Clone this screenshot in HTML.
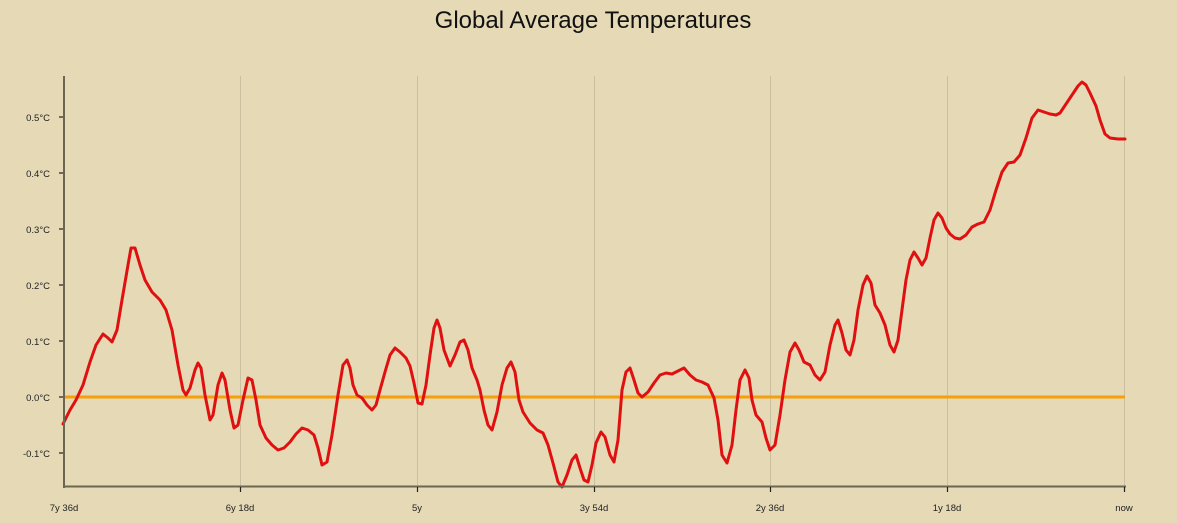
<!DOCTYPE html>
<html><head><style>
html,body{margin:0;padding:0;background:#e5d9b6;}
svg{display:block;font-family:"Liberation Sans",sans-serif;}
</style></head><body>
<svg width="1177" height="523" viewBox="0 0 1177 523">
<rect width="1177" height="523" fill="#e5d9b6"/>
<text x="593" y="28" text-anchor="middle" font-size="24" fill="#111">Global Average Temperatures</text>
<g stroke="#cbbf9f" stroke-width="1">
<line x1="240.5" y1="76" x2="240.5" y2="486"/>
<line x1="417.5" y1="76" x2="417.5" y2="486"/>
<line x1="594.5" y1="76" x2="594.5" y2="486"/>
<line x1="770.5" y1="76" x2="770.5" y2="486"/>
<line x1="947.5" y1="76" x2="947.5" y2="486"/>
<line x1="1124.5" y1="76" x2="1124.5" y2="486"/>
</g>
<line x1="64" y1="397" x2="1125" y2="397" stroke="#f59f0b" stroke-width="3"/>
<polyline fill="none" stroke="#e01010" stroke-width="3" stroke-linejoin="round" stroke-linecap="round" points="63,424 70,410 76,400 83,385 90,362 96,345 103,334 108,338 112,342 117,330 122,300 128,265 131,248 135,248 140,265 145,280 152,292 160,300 166,310 172,330 178,365 183,390 186,395 190,388 195,370 198,363 201,368 205,395 210,420 213,415 218,385 222,373 225,380 230,410 234,428 238,425 243,400 248,378 252,380 256,400 260,425 266,438 272,445 278,450 284,448 290,442 296,434 302,428 308,430 314,435 318,448 322,465 327,462 332,435 338,395 343,365 347,360 350,368 353,385 357,395 362,398 367,405 372,410 376,405 380,390 385,372 390,355 395,348 400,352 406,358 410,366 414,383 418,403 422,404 426,385 430,355 434,328 437,320 440,328 444,350 450,366 455,355 460,342 464,340 468,350 472,368 477,380 480,390 484,410 488,425 492,430 497,412 502,385 507,368 511,362 515,372 519,400 523,412 530,423 537,430 543,433 548,445 553,463 558,482 562,487 567,475 572,460 576,455 580,468 584,480 588,482 592,465 596,443 601,432 605,437 610,455 614,462 618,440 622,390 626,372 630,368 634,380 638,393 642,397 648,392 654,383 660,375 666,373 672,374 678,371 684,368 690,375 696,380 702,382 708,385 714,398 718,420 722,455 727,463 732,445 736,410 740,380 745,370 749,378 752,400 756,415 762,422 766,438 770,450 775,445 780,415 785,380 790,352 795,343 799,350 804,362 810,365 815,375 820,380 825,372 830,345 835,325 838,320 842,333 846,350 850,355 854,340 858,310 863,285 867,276 871,283 875,305 880,313 885,325 890,345 894,352 898,340 902,310 906,280 910,260 914,252 918,258 922,265 926,258 930,238 934,220 938,213 942,218 946,228 950,234 955,238 960,239 966,235 972,227 978,224 984,222 990,210 996,190 1002,172 1008,163 1014,162 1020,155 1026,138 1032,118 1038,110 1044,112 1050,114 1056,115 1060,113 1066,104 1072,95 1078,86 1082,82 1086,85 1090,93 1096,106 1100,120 1105,134 1110,138 1118,139 1125,139"/>
<g stroke="#6b6650" stroke-width="2">
<line x1="64" y1="76" x2="64" y2="488"/>
<line x1="63" y1="486.5" x2="1126" y2="486.5"/>
</g>
<g stroke="#222" stroke-width="1.2">
<line x1="59" y1="117" x2="63" y2="117"/>
<line x1="59" y1="173" x2="63" y2="173"/>
<line x1="59" y1="229" x2="63" y2="229"/>
<line x1="59" y1="285" x2="63" y2="285"/>
<line x1="59" y1="341" x2="63" y2="341"/>
<line x1="59" y1="397" x2="63" y2="397"/>
<line x1="59" y1="453" x2="63" y2="453"/>
<line x1="240.5" y1="487" x2="240.5" y2="492"/>
<line x1="417.5" y1="487" x2="417.5" y2="492"/>
<line x1="594.5" y1="487" x2="594.5" y2="492"/>
<line x1="770.5" y1="487" x2="770.5" y2="492"/>
<line x1="947.5" y1="487" x2="947.5" y2="492"/>
<line x1="1124.5" y1="487" x2="1124.5" y2="492"/>
</g>
<g font-size="9.5" fill="#222" text-anchor="end">
<text x="50" y="121">0.5°C</text>
<text x="50" y="177">0.4°C</text>
<text x="50" y="233">0.3°C</text>
<text x="50" y="289">0.2°C</text>
<text x="50" y="345">0.1°C</text>
<text x="50" y="401">0.0°C</text>
<text x="50" y="457">-0.1°C</text>
</g>
<g font-size="9.5" fill="#222" text-anchor="middle">
<text x="64" y="511">7y 36d</text>
<text x="240" y="511">6y 18d</text>
<text x="417" y="511">5y</text>
<text x="594" y="511">3y 54d</text>
<text x="770" y="511">2y 36d</text>
<text x="947" y="511">1y 18d</text>
<text x="1124" y="511">now</text>
</g>
</svg>
</body></html>
